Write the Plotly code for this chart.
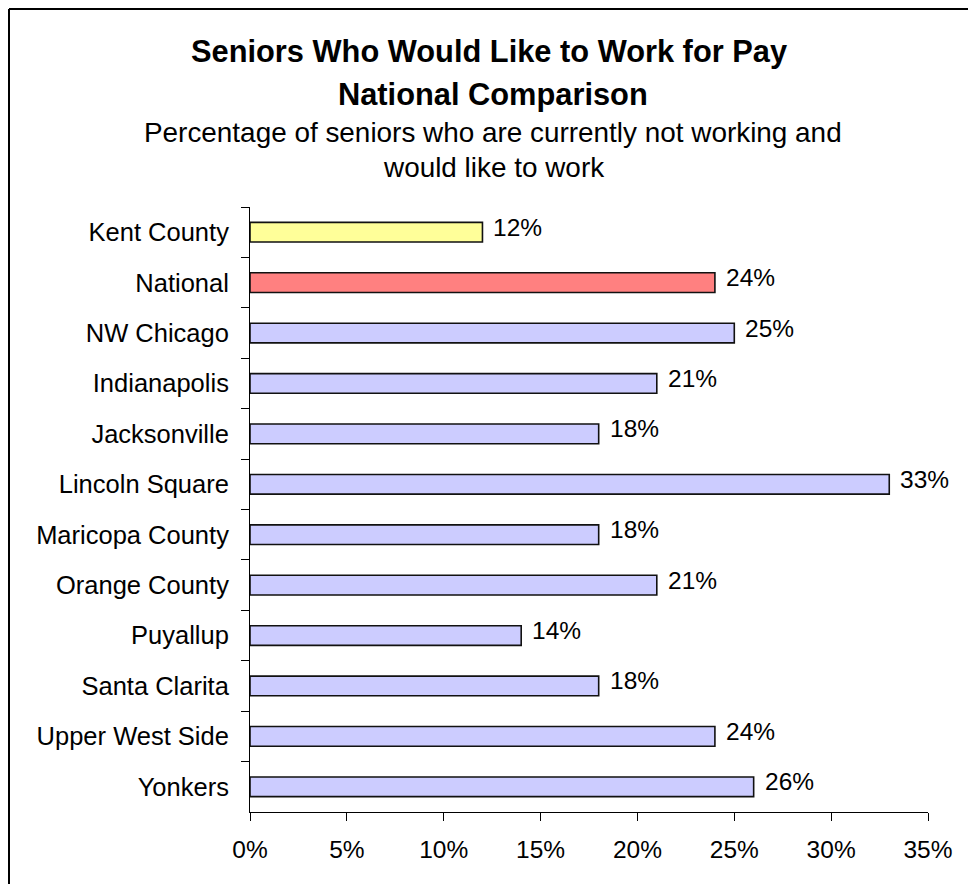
import plotly.graph_objects as go

categories = ["Kent County", "National", "NW Chicago", "Indianapolis", "Jacksonville",
              "Lincoln Square", "Maricopa County", "Orange County", "Puyallup",
              "Santa Clarita", "Upper West Side", "Yonkers"]
values = [0.12, 0.24, 0.25, 0.21, 0.18, 0.33, 0.18, 0.21, 0.14, 0.18, 0.24, 0.26]
bar_colors = ["#FFFF99", "#FF8080"] + ["#CCCCFF"] * 10
x_ticks = [0, 0.05, 0.10, 0.15, 0.20, 0.25, 0.30, 0.35]
x_tick_labels = ["0%", "5%", "10%", "15%", "20%", "25%", "30%", "35%"]
title_lines = ["Seniors Who Would Like to Work for Pay", "National Comparison"]
subtitle_lines = ["Percentage of seniors who are currently not working and", "would like to work"]

FONT = "Liberation Sans, Arial, Helvetica, sans-serif"
OFF = 8  # page body margin offset
W, H = 960, 876
L, R, T, B = 242, 40, 199, 72
pw, ph = W - L - R, H - T - B


def px_x(px):
    return (px - OFF - L) / pw


def px_y(py):
    return (H - B - (py - OFF)) / ph


fig = go.Figure()
fig.add_trace(go.Bar(
    x=values, y=categories, orientation="h",
    marker=dict(color=bar_colors, line=dict(color="#111111", width=1.6)),
    width=0.39, hoverinfo="skip",
))

annotations = []
for c, v in zip(categories, values):
    annotations.append(dict(
        x=v, y=c, xref="x", yref="y", text=f"{v:.0%}", showarrow=False,
        xanchor="left", yanchor="middle", xshift=9, yshift=5,
        font=dict(family=FONT, size=24.5, color="#000000"),
    ))

title_y = [51, 94]
title_x = [489, 493]
for line, px, py in zip(title_lines, title_x, title_y):
    annotations.append(dict(
        x=px_x(px), y=px_y(py), xref="paper", yref="paper", text=f"<b>{line}</b>",
        showarrow=False, xanchor="center", yanchor="middle",
        font=dict(family=FONT, size=30.8, color="#000000"),
    ))
sub_y = [132.5, 167]
for line, py in zip(subtitle_lines, sub_y):
    annotations.append(dict(
        x=px_x(493), y=px_y(py), xref="paper", yref="paper", text=line,
        showarrow=False, xanchor="center", yanchor="middle",
        font=dict(family=FONT, size=27.9, color="#000000"),
    ))

fig.update_layout(
    width=W, height=H,
    margin=dict(l=L, r=R, t=T, b=B, pad=0),
    paper_bgcolor="#FFFFFF", plot_bgcolor="#FFFFFF",
    showlegend=False,
    font=dict(family=FONT, size=25, color="#000000"),
    annotations=annotations,
    shapes=[
        dict(type="line", xref="paper", yref="paper", layer="above",
             x0=px_x(9), x1=px_x(9), y0=px_y(9), y1=px_y(900),
             line=dict(color="#000000", width=2)),
        dict(type="line", xref="paper", yref="paper", layer="above",
             x0=px_x(9), x1=px_x(990), y0=px_y(9), y1=px_y(9),
             line=dict(color="#000000", width=2)),
    ],
    bargap=0.61,
)
fig.update_xaxes(
    range=[0, 0.35], tickvals=x_ticks, ticktext=x_tick_labels,
    showgrid=False, zeroline=False, showline=True, linecolor="#000000", linewidth=1,
    ticks="outside", ticklen=8, tickcolor="#000000", tickwidth=1,
    tickfont=dict(family=FONT, size=24.5, color="#000000"),
    ticklabelstandoff=8,
)
fig.update_yaxes(
    autorange="reversed", type="category",
    showgrid=False, zeroline=False, showline=True, linecolor="#000000", linewidth=1,
    ticks="outside", ticklen=8, tickcolor="#000000", tickwidth=1, tickson="boundaries",
    tickfont=dict(family=FONT, size=25.5, color="#000000"),
    ticklabelstandoff=15,
)

fig.write_html("out.html")
